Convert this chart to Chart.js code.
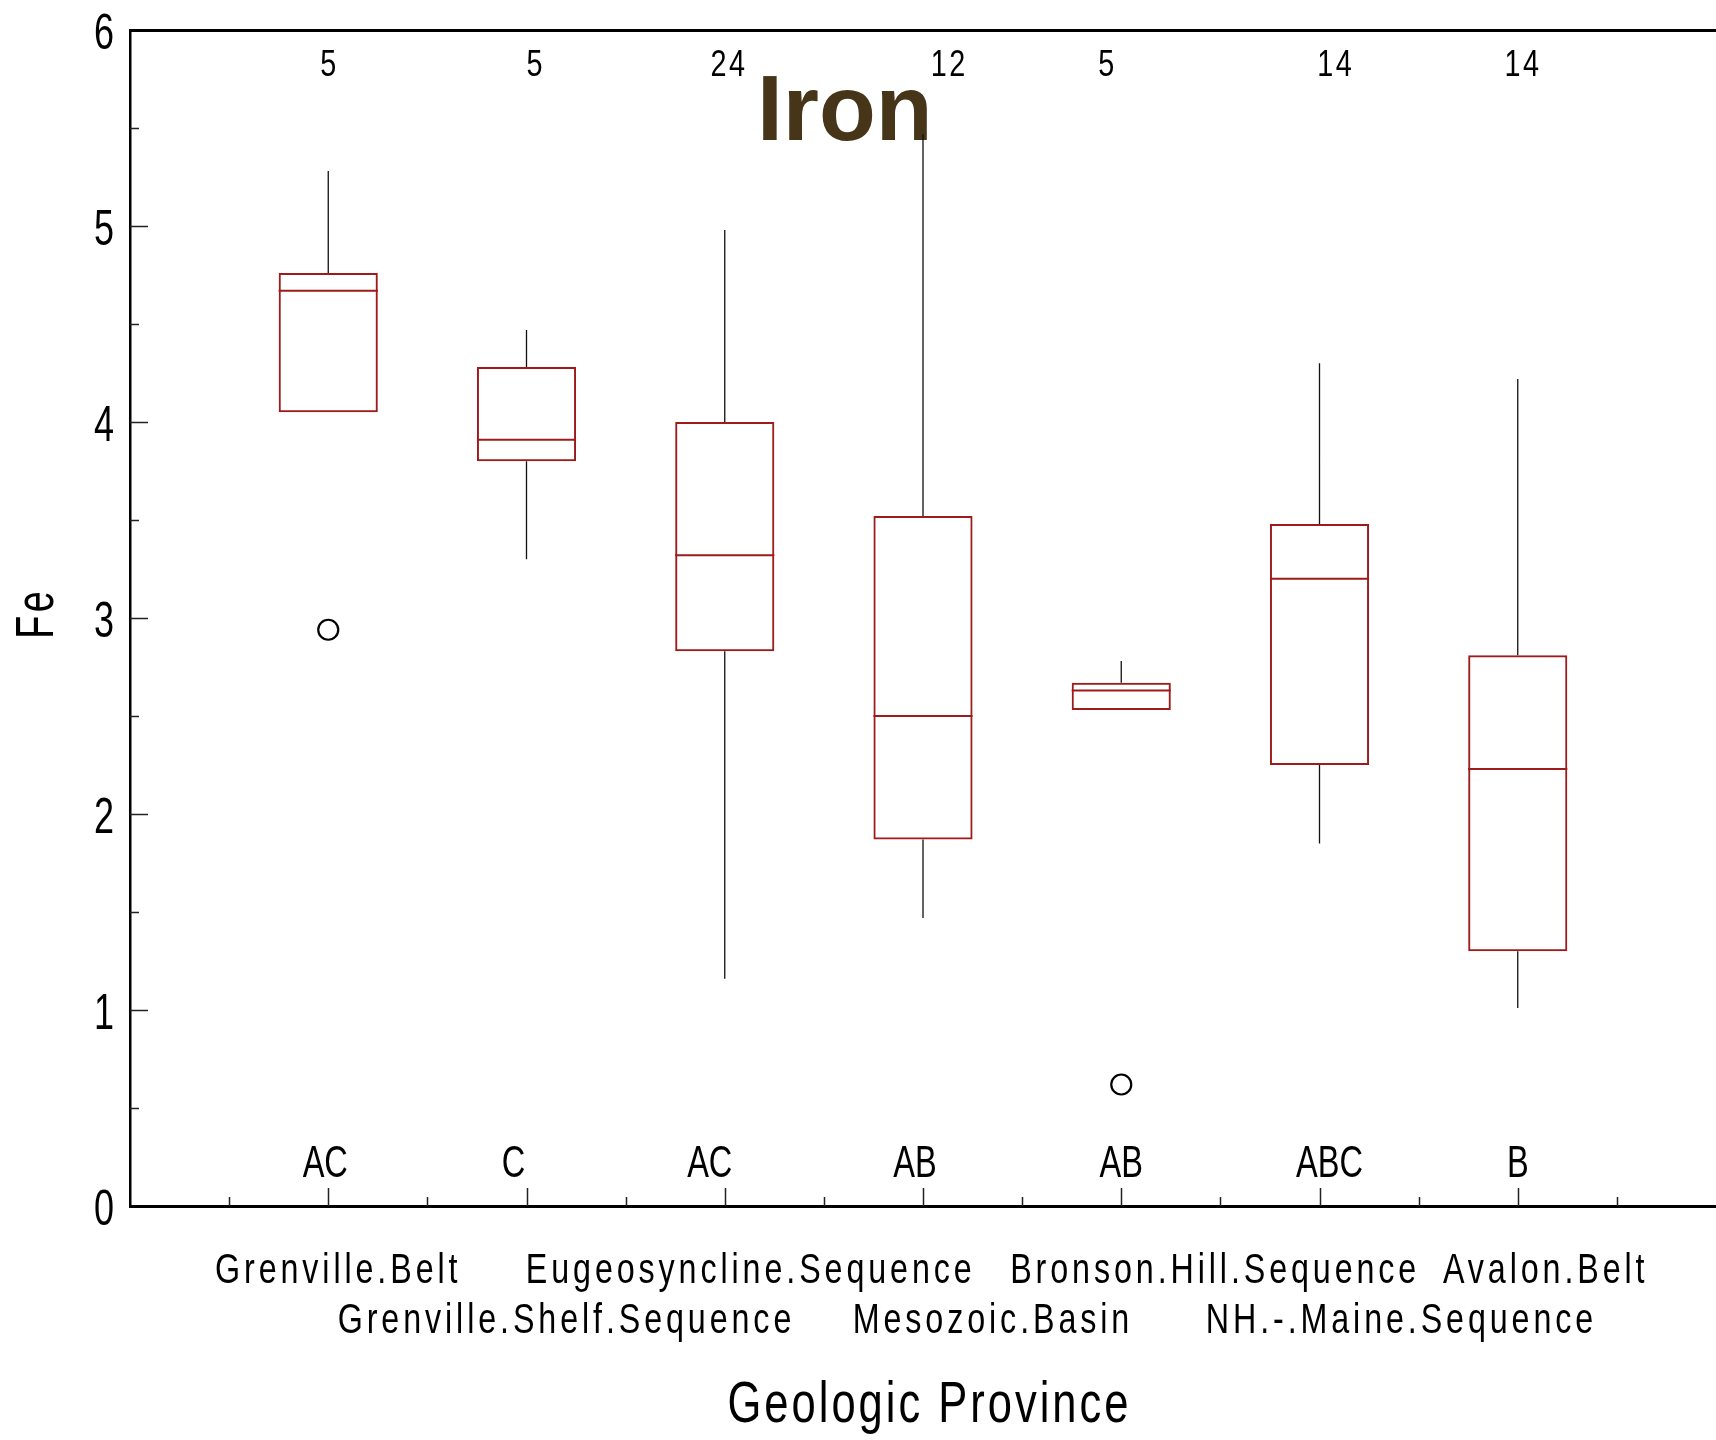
<!DOCTYPE html>
<html>
<head>
<meta charset="utf-8">
<script src="https://cdn.jsdelivr.net/npm/chart.js@4.4.1/dist/chart.umd.min.js"></script>
<style>
  html, body { margin: 0; padding: 0; background: #fff; overflow: hidden; }
  canvas { display: block; }
</style>
</head>
<body>
<canvas id="fe-chart" width="1716" height="1440"></canvas>
<script>
const PROVINCES = [
  'Grenville.Belt', 'Grenville.Shelf.Sequence', 'Eugeosyncline.Sequence', 'Mesozoic.Basin',
  'Bronson.Hill.Sequence', 'NH.-.Maine.Sequence', 'Avalon.Belt'
];
const COUNTS = [5, 5, 24, 12, 5, 14, 14];
const GROUPS = ['AC', 'C', 'AC', 'AB', 'AB', 'ABC', 'B'];

// five-number summaries per province
const LOWER_WHISKER = [4.05, 3.30, 1.16, 1.47, 2.53, 1.85, 1.01];
const Q1 = [4.05, 3.80, 2.83, 1.87, 2.53, 2.25, 1.30];
const MEDIAN = [4.67, 3.91, 3.32, 2.50, 2.63, 3.20, 2.23];
const Q3 = [4.76, 4.28, 4.00, 3.52, 2.67, 3.48, 2.81];
const UPPER_WHISKER = [5.28, 4.47, 4.98, 5.47, 2.78, 4.30, 4.22];
const OUTLIERS = [[2.94], [], [], [], [0.62], [], []];

const SANS = "'Liberation Sans', Arial, sans-serif";
const BOX_RED = '#9e1b1b';
// horizontal nudges (px) for the text rows, relative to each box centre
const LABEL_NUDGE = [8, 38, 24, 68, 92, 80, 26];
const COUNT_NUDGE = [0, 8, 3, 25, -15, 15, 4];
const GROUP_NUDGE = [-3, -13, -15, -8, 0, 10, 0];

const pos = i => i + 1;

const boxData = PROVINCES.map((_, i) => ({ x: pos(i), y: [Q1[i], Q3[i]] }));

const whiskerData = [];
const medianData = [];
PROVINCES.forEach((_, i) => {
  whiskerData.push({ x: pos(i), y: Q3[i] }, { x: pos(i), y: UPPER_WHISKER[i] }, { x: pos(i), y: null });
  whiskerData.push({ x: pos(i), y: Q1[i] }, { x: pos(i), y: LOWER_WHISKER[i] }, { x: pos(i), y: null });
  medianData.push({ x: pos(i) - 0.25, y: MEDIAN[i] }, { x: pos(i) + 0.25, y: MEDIAN[i] }, { x: pos(i), y: null });
});

const outlierData = [];
OUTLIERS.forEach((vals, i) => vals.forEach(v => outlierData.push({ x: pos(i), y: v })));

// condensed text: regular face squeezed horizontally, with extra tracking
function narrowText(ctx, text, x, y, o) {
  const spacing = o.spacing || 0;
  ctx.save();
  ctx.font = (o.weight ? o.weight + ' ' : '') + o.size + 'px ' + SANS;
  ctx.letterSpacing = spacing + 'px';
  ctx.textAlign = 'left';
  ctx.textBaseline = 'alphabetic';
  ctx.fillStyle = o.color || '#000';
  const w = ctx.measureText(text).width - spacing;
  ctx.translate(x, y);
  if (o.rotate) ctx.rotate(o.rotate);
  ctx.scale(o.sx || 1, 1);
  const dx = o.align === 'center' ? -w / 2 : o.align === 'right' ? -w : 0;
  ctx.fillText(text, dx, 0);
  ctx.restore();
}

const decorations = {
  id: 'decorations',
  beforeDatasetsDraw(chart) {
    const { ctx, chartArea: area, scales: { x, y } } = chart;
    ctx.save();
    ctx.strokeStyle = '#222';
    ctx.lineWidth = 1.5;
    ctx.beginPath();
    for (let v = y.min + 0.5; v < y.max; v += 0.5) {
      const py = Math.round(y.getPixelForValue(v)) + 0.5;
      const len = Number.isInteger(v) ? 18 : 9;
      ctx.moveTo(area.left, py);
      ctx.lineTo(area.left + len, py);
    }
    for (let v = x.min + 0.5; v < x.max; v += 0.5) {
      const px = Math.round(x.getPixelForValue(v)) + 0.5;
      const len = Number.isInteger(v) ? 18 : 9;
      ctx.moveTo(px, area.bottom);
      ctx.lineTo(px, area.bottom - len);
    }
    ctx.stroke();
    ctx.restore();

    narrowText(ctx, 'Iron', 757, 140, { size: 93, weight: 'bold', color: '#463519' });
  },
  afterDraw(chart) {
    const { ctx, chartArea: area, scales: { x, y } } = chart;

    // y tick labels from the scale's own ticks
    y.ticks.forEach(t => {
      narrowText(ctx, String(t.value), area.left - 16, y.getPixelForValue(t.value) + 19,
        { size: 50, sx: 0.72, align: 'right' });
    });

    COUNTS.forEach((n, i) => narrowText(ctx, String(n), x.getPixelForValue(pos(i)) + COUNT_NUDGE[i], area.top + 46,
      { size: 36, sx: 0.8, spacing: 3, align: 'center' }));

    GROUPS.forEach((g, i) => narrowText(ctx, g, x.getPixelForValue(pos(i)) + GROUP_NUDGE[i], area.bottom - 29,
      { size: 44, sx: 0.74, align: 'center' }));

    PROVINCES.forEach((name, i) => {
      const row = i % 2;
      narrowText(ctx, name, x.getPixelForValue(pos(i)) + LABEL_NUDGE[i], area.bottom + 77 + row * 50,
        { size: 43, sx: 0.75, spacing: 5.2, align: 'center' });
    });

    narrowText(ctx, 'Geologic Province', (area.left + area.right) / 2 + 5, area.bottom + 216,
      { size: 58, sx: 0.75, spacing: 4, align: 'center' });

    narrowText(ctx, 'Fe', 53, (area.top + area.bottom) / 2 - 3,
      { size: 54, sx: 0.7, spacing: 5, align: 'center', rotate: -Math.PI / 2 });
  }
};

const fitTo = size => scale => {
  if (scale.isHorizontal()) scale.height = size; else scale.width = size;
};

new Chart(document.getElementById('fe-chart'), {
  type: 'bar',
  data: {
    datasets: [
      {
        type: 'bar',
        data: boxData,
        backgroundColor: 'rgba(0,0,0,0)',
        borderColor: BOX_RED,
        borderWidth: 2,
        borderSkipped: false,
        barPercentage: 0.5,
        categoryPercentage: 1
      },
      {
        type: 'line',
        data: medianData,
        borderColor: BOX_RED,
        borderWidth: 2,
        pointRadius: 0,
        spanGaps: false,
        fill: false
      },
      {
        type: 'line',
        data: whiskerData,
        borderColor: '#111',
        borderWidth: 1.3,
        pointRadius: 0,
        spanGaps: false,
        fill: false
      },
      {
        type: 'scatter',
        data: outlierData,
        pointStyle: 'circle',
        pointRadius: 10,
        borderColor: '#000',
        borderWidth: 2.2,
        backgroundColor: 'rgba(0,0,0,0)'
      }
    ]
  },
  options: {
    responsive: false,
    animation: false,
    devicePixelRatio: 1,
    layout: { padding: 0, autoPadding: false },
    plugins: { legend: { display: false }, tooltip: { enabled: false } },
    scales: {
      x: {
        type: 'linear',
        position: 'bottom',
        min: 0,
        max: 8,
        offset: false,
        ticks: { display: false, stepSize: 1 },
        grid: { display: false, drawTicks: false },
        border: { display: true, color: '#000', width: 3 },
        afterFit: fitTo(234)
      },
      xTop: {
        type: 'linear',
        position: 'top',
        min: 0,
        max: 8,
        display: true,
        ticks: { display: false },
        grid: { display: false, drawTicks: false },
        border: { display: true, color: '#000', width: 3 },
        afterFit: fitTo(30)
      },
      y: {
        type: 'linear',
        min: 0,
        max: 6,
        ticks: { display: false, stepSize: 1 },
        grid: { display: false, drawTicks: false },
        border: { display: true, color: '#000', width: 2.5 },
        afterFit: fitTo(130)
      }
    }
  },
  plugins: [decorations]
});
</script>
</body>
</html>
